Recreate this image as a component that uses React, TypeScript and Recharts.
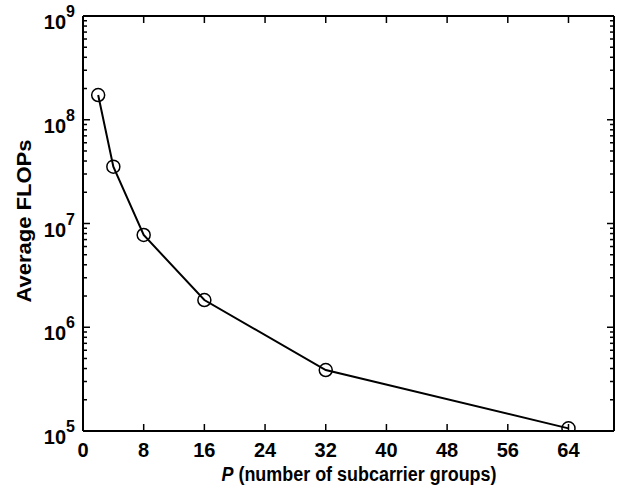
import React from 'react';
import { LineChart, Line, XAxis, YAxis } from 'recharts';

const pValues = [2, 4, 8, 16, 32, 64];
const flops = [1.73e8, 3.53e7, 7.75e6, 1.83e6, 3.87e5, 1.06e5];

const xTicks = [0, 8, 16, 24, 32, 40, 48, 56, 64];
const yMajorTicks = [1e5, 1e6, 1e7, 1e8, 1e9];
const yMinorMultipliers = [2, 3, 4, 5, 6, 7, 8, 9];

const yTicks: number[] = [];
yMajorTicks.forEach((m, i) => {
  yTicks.push(m);
  if (i < yMajorTicks.length - 1) yMinorMultipliers.forEach((k) => yTicks.push(m * k));
});

const data = pValues.map((p, i) => ({ p, f: flops[i] }));

const FONT = 'Arial, "Liberation Sans", sans-serif';

const isMajor = (v: number) => yMajorTicks.some((m) => Math.abs(m - v) < m * 1e-6);

const XTickBottom = (props: any) => {
  const { x, y, payload } = props;
  return (
    <g>
      <line x1={x} y1={y} x2={x} y2={y - 7} stroke="#000" strokeWidth={1.5} />
      <text x={x} y={y + 26} textAnchor="middle" fontFamily={FONT} fontWeight="bold" fontSize={20} fill="#000">
        {payload.value}
      </text>
    </g>
  );
};

const XTickTop = (props: any) => {
  const { x, y } = props;
  return <line x1={x} y1={y} x2={x} y2={y + 7} stroke="#000" strokeWidth={1.5} />;
};

const YTickLeft = (props: any) => {
  const { x, y, payload } = props;
  const v = payload.value;
  const major = isMajor(v);
  const exp = Math.round(Math.log10(v));
  return (
    <g>
      <line x1={x} y1={y} x2={x + (major ? 7 : 4)} y2={y} stroke="#000" strokeWidth={1.5} />
      {major && (
        <text x={x - 8} y={y + 13} textAnchor="end" fontFamily={FONT} fontWeight="bold" fontSize={20} fill="#000">
          10
          <tspan dy={-12} fontSize={16}>{exp}</tspan>
        </text>
      )}
    </g>
  );
};

const YTickRight = (props: any) => {
  const { x, y, payload } = props;
  const major = isMajor(payload.value);
  return <line x1={x} y1={y} x2={x - (major ? 7 : 4)} y2={y} stroke="#000" strokeWidth={1.5} />;
};

const Circle = (props: any) => {
  const { cx, cy } = props;
  return <circle cx={cx} cy={cy} r={6.5} fill="none" stroke="#000" strokeWidth={1.5} />;
};

export default function App() {
  return (
    <div style={{ position: 'absolute', left: 0, top: 0, background: '#fff' }}>
      <LineChart width={621} height={495} data={data} margin={{ top: 15, right: 6, left: 0, bottom: 0 }}>
        <XAxis
          dataKey="p"
          type="number"
          domain={[0, 70]}
          ticks={xTicks}
          interval={0}
          height={64}
          tickSize={0}
          tickMargin={0}
          tickLine={false}
          axisLine={{ stroke: '#000', strokeWidth: 2 }}
          tick={<XTickBottom />}
          label={{
            content: () => (
              <text
                x={359}
                y={481}
                textAnchor="middle"
                fontFamily={FONT}
                fontWeight="bold"
                fontSize={20}
                fill="#000"
                textLength={275}
                lengthAdjust="spacingAndGlyphs"
              >
                <tspan fontStyle="italic">P</tspan> (number of subcarrier groups)
              </text>
            ),
          }}
        />
        <XAxis
          xAxisId="top"
          orientation="top"
          dataKey="p"
          type="number"
          domain={[0, 70]}
          ticks={xTicks}
          interval={0}
          height={1}
          tickSize={0}
          tickMargin={0}
          tickLine={false}
          axisLine={{ stroke: '#000', strokeWidth: 2 }}
          tick={<XTickTop />}
        />
        <YAxis
          type="number"
          scale="log"
          domain={[1e5, 1e9]}
          allowDataOverflow
          ticks={yTicks}
          interval={0}
          width={83}
          tickSize={0}
          tickMargin={0}
          tickLine={false}
          axisLine={{ stroke: '#000', strokeWidth: 2 }}
          tick={<YTickLeft />}
          label={{
            content: () => (
              <text
                x={31}
                y={221}
                transform="rotate(-90 31 221)"
                textAnchor="middle"
                fontFamily={FONT}
                fontWeight="bold"
                fontSize={21}
                fill="#000"
                textLength={163}
                lengthAdjust="spacingAndGlyphs"
              >
                Average FLOPs
              </text>
            ),
          }}
        />
        <YAxis
          yAxisId="right"
          orientation="right"
          type="number"
          scale="log"
          domain={[1e5, 1e9]}
          allowDataOverflow
          ticks={yTicks}
          interval={0}
          width={1}
          tickSize={0}
          tickMargin={0}
          tickLine={false}
          axisLine={{ stroke: '#000', strokeWidth: 2 }}
          tick={<YTickRight />}
        />
        <Line
          xAxisId="top"
          yAxisId="right"
          dataKey="f"
          stroke="none"
          dot={false}
          activeDot={false}
          isAnimationActive={false}
        />
        <Line
          dataKey="f"
          stroke="#000"
          strokeWidth={2}
          dot={<Circle />}
          isAnimationActive={false}
        />
      </LineChart>
    </div>
  );
}
